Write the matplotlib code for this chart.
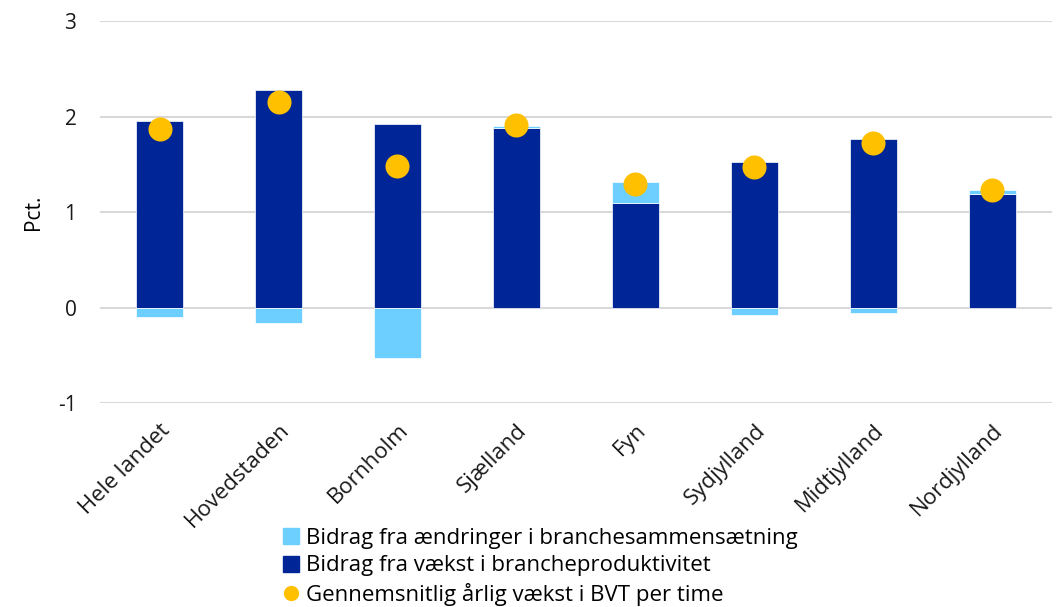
import numpy as np
import matplotlib.pyplot as plt
from matplotlib.lines import Line2D

# regional growth in value added per hour worked, decomposed
regions = ['Hele landet', 'Hovedstaden', 'Bornholm', 'Sjælland', 'Fyn',
           'Sydjylland', 'Midtjylland', 'Nordjylland']
composition = [-0.10, -0.16, -0.53, 0.02, 0.22, -0.08, -0.06, 0.04]
productivity = [1.95, 2.28, 1.92, 1.88, 1.10, 1.53, 1.77, 1.19]
avg_growth = [1.87, 2.15, 1.48, 1.91, 1.30, 1.47, 1.72, 1.23]

labels = ['Bidrag fra ændringer i branchesammensætning',
          'Bidrag fra vækst i brancheproduktivitet',
          'Gennemsnitlig årlig vækst i BVT per time']

light = '#6DCFFF'
dark = '#002596'
yellow = '#FFC000'

plt.rcParams['font.family'] = ['Open Sans', 'DejaVu Sans']

fig = plt.figure(figsize=(10.56, 6.07), dpi=100)
ax = fig.add_axes([0.0947, 0.336, 0.9015, 0.629])

x = np.arange(len(regions))
comp = np.array(composition)
prod = np.array(productivity)

ax.bar(x, prod, width=0.4, color=dark, edgecolor='white', linewidth=0.5, zorder=2)
# positive composition effects sit on top of the productivity bar
ax.bar(x, comp, width=0.4, bottom=np.where(comp > 0, prod, 0), color=light,
       edgecolor='white', linewidth=0.5, zorder=2)
ax.scatter(x, avg_growth, s=300, color=yellow, zorder=3, linewidths=0)

ax.set_xlim(-0.5, len(regions) - 0.5)
ax.set_ylim(-1, 3)
ax.set_yticks([-1, 0, 1, 2, 3])
ax.set_yticklabels(['-1', '0', '1', '2', '3'])
ax.yaxis.grid(True, color='#d9d9d9', linewidth=1.5, zorder=0)
ax.set_axisbelow(True)
for s in ax.spines.values():
    s.set_visible(False)
ax.tick_params(axis='y', length=0, labelsize=15, colors='#1a1a1a', pad=17)
ax.set_xticks(x)
ax.set_xticklabels(regions, rotation=45, ha='right', rotation_mode='anchor')
ax.tick_params(axis='x', length=0, labelsize=16, colors='#1a1a1a', pad=12)
ax.set_ylabel('Pct.', fontsize=15, labelpad=10)

handles = [Line2D([], [], marker='s', linestyle='none', color=light, markersize=12),
           Line2D([], [], marker='s', linestyle='none', color=dark, markersize=12),
           Line2D([], [], marker='o', linestyle='none', color=yellow, markersize=10)]
fig.legend(handles, labels, loc='upper left', bbox_to_anchor=(0.268, 0.13),
           frameon=False, fontsize=16, handlelength=0.7, handletextpad=0.35,
           labelspacing=0.28, borderpad=0, borderaxespad=0)

fig.savefig('out.png', dpi=100)
